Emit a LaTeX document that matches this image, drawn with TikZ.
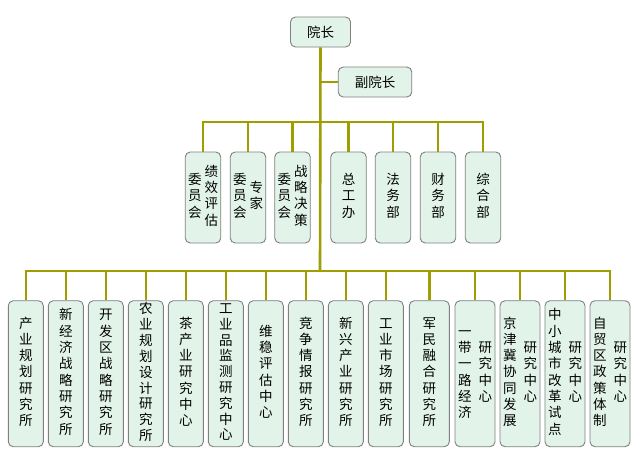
\documentclass[tikz,border=0pt]{standalone}
\usepackage{fontspec}
\newfontfamily\cjk{Noto Sans CJK SC}
\newcommand\vcol[1]{\begin{tabular}{@{}c@{}}#1\end{tabular}}
\definecolor{linkc}{RGB}{158,158,0}
\definecolor{boxfill}{RGB}{226,244,234}
\definecolor{boxline}{RGB}{128,128,128}
\tikzset{
  orgbox/.style={draw=boxline, line width=0.9pt, fill=boxfill, rounded corners=5pt,
    inner sep=0pt, align=center, font=\cjk\fontsize{13.5}{16.3}\selectfont},
  hbox/.style={orgbox, minimum height=30pt},
  midbox/.style={orgbox, minimum width=35.5pt, minimum height=91pt},
  botbox/.style={orgbox, minimum width=35pt, minimum height=146pt},
  wbotbox/.style={orgbox, minimum width=40pt, minimum height=146pt},
  tightbox/.style={botbox, font=\cjk\fontsize{13.5}{15.5}\selectfont},
  link/.style={draw=linkc, line width=2.6pt}
}
\begin{document}
\begin{tikzpicture}[x=1pt,y=-1pt]
\useasboundingbox (0,0) rectangle (640,461);
\fill[white] (0,0) rectangle (640,461);
% top
\node[hbox, minimum width=60pt] (pres) at (320.5,32) {院长};
\node[hbox, minimum width=73.5pt] (vp) at (375,82) {副院长};
\coordinate (hm) at (320,122);
\coordinate (hb) at (320,271);
% middle row
\node[midbox] (m1) at (203,197.5) {\vcol{委\\员\\会}\hspace{3pt}\vcol{绩\\效\\评\\估}};
\node[midbox] (m2) at (248,197.5) {\vcol{委\\员\\会}\hspace{3pt}\vcol{专\\家}};
\node[midbox] (m3) at (292.5,197.5) {\vcol{委\\员\\会}\hspace{3pt}\vcol{战\\略\\决\\策}};
\node[midbox] (m4) at (348.5,197.5) {\vcol{总\\工\\办}};
\node[midbox] (m5) at (393,197.5) {\vcol{法\\务\\部}};
\node[midbox] (m6) at (438,197.5) {\vcol{财\\务\\部}};
\node[midbox] (m7) at (483,197.5) {\vcol{综\\合\\部}};
% bottom row
\node[botbox] (b1) at (25.8,373.7) {\vcol{产\\业\\规\\划\\研\\究\\所}};
\node[botbox] (b2) at (65.8,373.7) {\vcol{新\\经\\济\\战\\略\\研\\究\\所}};
\node[botbox] (b3) at (105.8,373.7) {\vcol{开\\发\\区\\战\\略\\研\\究\\所}};
\node[tightbox] (b4) at (145.8,373.7) {\vcol{农\\业\\规\\划\\设\\计\\研\\究\\所}};
\node[botbox] (b5) at (185.8,373.7) {\vcol{茶\\产\\业\\研\\究\\中\\心}};
\node[tightbox] (b6) at (225.8,373.7) {\vcol{工\\业\\品\\监\\测\\研\\究\\中\\心}};
\node[botbox] (b7) at (265.8,373.7) {\vcol{维\\稳\\评\\估\\中\\心}};
\node[botbox] (b8) at (305.8,373.7) {\vcol{竞\\争\\情\\报\\研\\究\\所}};
\node[botbox] (b9) at (345.8,373.7) {\vcol{新\\兴\\产\\业\\研\\究\\所}};
\node[botbox] (b10) at (385.8,373.7) {\vcol{工\\业\\市\\场\\研\\究\\所}};
\node[wbotbox] (b11) at (429.3,373.7) {\vcol{军\\民\\融\\合\\研\\究\\所}};
\node[wbotbox] (b12) at (475,373.7) {\vcol{一\\带\\一\\路\\经\\济}\hspace{7pt}\vcol{研\\究\\中\\心}};
\node[wbotbox] (b13) at (520,373.7) {\vcol{京\\津\\冀\\协\\同\\发\\展}\hspace{7pt}\vcol{研\\究\\中\\心}};
\node[wbotbox] (b14) at (565,373.7) {\vcol{中\\小\\城\\市\\改\\革\\试\\点}\hspace{7pt}\vcol{研\\究\\中\\心}};
\node[wbotbox] (b15) at (610,373.7) {\vcol{自\\贸\\区\\政\\策\\体\\制}\hspace{7pt}\vcol{研\\究\\中\\心}};
% connectors
\draw[link] (pres.south) -- (hb);
\draw[link] (vp.west) -- (vp.west -| pres.south);
\draw[link] (m1.north) |- (hm) -| (m7.north);
\foreach \n in {m2,m3,m4,m5,m6}{\draw[link] (\n.north) -- (\n.north |- hm);}
\draw[link] (b1.north) |- (hb) -| (b15.north);
\foreach \n in {b2,b3,b4,b5,b6,b7,b8,b9,b10,b11,b12,b13,b14}{\draw[link] (\n.north) -- (\n.north |- hb);}
\end{tikzpicture}
\end{document}
